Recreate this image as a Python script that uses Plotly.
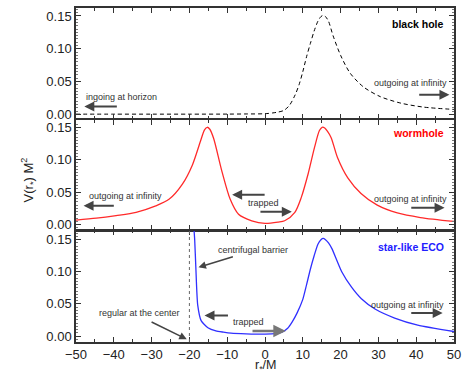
import plotly.graph_objects as go
from plotly.subplots import make_subplots

# ---- data ----
bh_r = [-50, -40, -30, -20, -10, -5, 0, 3, 5, 6.5, 8, 9, 10, 11, 12, 13, 14, 14.8, 15.4, 16.0, 16.8, 18, 20, 22.5, 26, 30.5, 36, 42, 50]
bh_v = [0.0003, 0.0003, 0.0003, 0.0003, 0.0004, 0.0006, 0.001, 0.003, 0.006, 0.014, 0.030, 0.045, 0.065, 0.088,
        0.108, 0.127, 0.142, 0.149, 0.151, 0.149, 0.142, 0.120, 0.090, 0.063, 0.042, 0.027, 0.017, 0.011, 0.0075]

wh_r = [-50, -44.6, -39.4, -34.1, -28.9, -25.4, -21.9, -19.2, -17.1, -16.0, -15.3, -14.6, -13.6, -11.4, -9.2, -7, -3.5, 0,
        3.5, 5.2, 7.9, 9.6, 11.4, 13.1, 14.4, 15.1, 15.8, 16.5, 17.5, 19.2, 21.9, 25.4, 29.7, 35, 41.1, 50]
wh_v = [0.007, 0.010, 0.014, 0.019, 0.029, 0.039, 0.062, 0.092, 0.128, 0.146, 0.150, 0.147, 0.133, 0.082, 0.039, 0.016, 0.006, 0.002,
        0.004, 0.006, 0.019, 0.042, 0.078, 0.119, 0.145, 0.150, 0.149, 0.144, 0.134, 0.103, 0.072, 0.048, 0.030, 0.018, 0.011, 0.005]

eco_r = [-18.9, -18.6, -18.3, -17.8, -16.9, -15.1, -13, -11, -9, -5, 0, 3, 4.5, 6, 7.2, 8.5, 10, 11, 12, 13, 14, 14.8, 15.4,
         16.0, 16.8, 17.7, 20.3, 22.9, 25.5, 29.1, 34.3, 40.4, 50]
eco_v = [0.175, 0.150, 0.107, 0.048, 0.024, 0.013, 0.008, 0.006, 0.0045, 0.0035, 0.003, 0.004, 0.006, 0.012, 0.022,
         0.036, 0.057, 0.080, 0.104, 0.125, 0.143, 0.150, 0.152, 0.150, 0.145, 0.136, 0.100, 0.076, 0.058, 0.042, 0.028, 0.017, 0.007]

barrier_r = -20
x_ticks = [-50, -40, -30, -20, -10, 0, 10, 20, 30, 40, 50]
y_ticks = [0.00, 0.05, 0.10, 0.15]
y_tick_text = ["0.00", "0.05", "0.10", "0.15"]

FONT = "Liberation Sans"
AX = "#333333"
TXT = "#333333"

fig = make_subplots(rows=3, cols=1, shared_xaxes=True)

fig.add_trace(go.Scatter(x=bh_r, y=bh_v, mode="lines",
                         line=dict(color="black", width=1, dash="4px,3px", shape="spline", smoothing=0.8)),
              row=1, col=1)
fig.add_trace(go.Scatter(x=wh_r, y=wh_v, mode="lines",
                         line=dict(color="#ff2a2a", width=1.3, shape="spline", smoothing=0.8)),
              row=2, col=1)
fig.add_trace(go.Scatter(x=eco_r, y=eco_v, mode="lines",
                         line=dict(color="#3030ff", width=1.3, shape="spline", smoothing=0.6)),
              row=3, col=1)

domains = [[0.6696, 1.0], [0.3363, 0.6637], [0.0, 0.3333]]
yranges = [[-0.0061, 0.1621], [-0.0077, 0.1607], [-0.0093, 0.164]]
for i in range(3):
    n = "" if i == 0 else str(i + 1)
    fig.layout["yaxis" + n].update(
        domain=domains[i], range=yranges[i], tickvals=y_ticks, ticktext=y_tick_text,
        ticks="inside", ticklen=5, tickcolor=AX, tickwidth=1, showline=True, linecolor=AX, linewidth=1.5,
        mirror="ticks", showgrid=False, zeroline=False,
        minor=dict(dtick=0.005, ticks="inside", ticklen=2, tickcolor="#777", tick0=0),
        tickfont=dict(family=FONT, size=13, color="#222"))
    fig.layout["xaxis" + n].update(
        range=[-50, 50], tickvals=x_ticks, ticks="inside", ticklen=5, tickcolor=AX, showline=True,
        linecolor=AX, linewidth=1.5, mirror="ticks", showgrid=False, zeroline=False,
        minor=dict(dtick=5, ticks="inside", ticklen=3, tickcolor=AX, tick0=0),
        showticklabels=(i == 2), tickfont=dict(family=FONT, size=13, color="#222"))

# dotted barrier line
fig.add_shape(type="line", xref="x3", yref="y3 domain", x0=barrier_r, x1=barrier_r, y0=0, y1=1,
              line=dict(color="#666", width=1, dash="dot"))

ann = []

def label(text, x, y, xa, ya, xanchor, color=TXT, size=9, bold=False):
    t = "<b>%s</b>" % text if bold else text
    ann.append(dict(text=t, x=x, y=y, xref=xa, yref=ya, xanchor=xanchor, yanchor="middle", showarrow=False,
                    font=dict(family=FONT, size=size, color=color)))

def arrow(x0, y0, x1, y1, xa, ya, color="#444", width=2):
    ann.append(dict(text="", x=x1, y=y1, ax=x0, ay=y0, xref=xa, yref=ya, axref=xa, ayref=ya,
                    showarrow=True, arrowhead=2, arrowsize=1, arrowwidth=width, arrowcolor=color))

# top panel
label("black hole", 47.8, 0.138, "x", "y", "right", color="black", size=10.5, bold=True)
label("ingoing at horizon", -47.8, 0.026, "x", "y", "left")
arrow(-38.8, 0.012, -47.8, 0.012, "x", "y")
label("outgoing at infinity", 48.6, 0.048, "x", "y", "right")
arrow(40.4, 0.030, 48.8, 0.030, "x", "y")

# middle panel
label("wormhole", 47.8, 0.141, "x2", "y2", "right", color="#ff0000", size=10.5, bold=True)
label("outgoing at infinity", -47.2, 0.044, "x2", "y2", "left")
arrow(-39.6, 0.029, -48.0, 0.029, "x2", "y2")
label("trapped", -5.0, 0.034, "x2", "y2", "left")
arrow(0.3, 0.046, -8.7, 0.046, "x2", "y2")
arrow(-1.6, 0.020, 7.1, 0.020, "x2", "y2")
label("outgoing at infinity", 48.8, 0.040, "x2", "y2", "right")
arrow(38.3, 0.026, 47.5, 0.026, "x2", "y2")

# bottom panel
label("star-like ECO", 47.8, 0.138, "x3", "y3", "right", color="#2020ff", size=10.5, bold=True)
label("centrifugal barrier", -12.9, 0.134, "x3", "y3", "left")
arrow(-8.1, 0.124, -17.6, 0.107, "x3", "y3", width=1.5)
label("regular at the center", -44.4, 0.036, "x3", "y3", "left")
arrow(-30.4, 0.023, -20.7, -0.005, "x3", "y3", width=1.5)
label("trapped", -8.9, 0.022, "x3", "y3", "left")
arrow(-9.4, 0.032, -16.0, 0.032, "x3", "y3")
arrow(-3.7, 0.008, 5.5, 0.008, "x3", "y3", color="#777", width=2.5)
label("outgoing at infinity", 47.8, 0.049, "x3", "y3", "right")
arrow(38.3, 0.036, 47.0, 0.036, "x3", "y3")

# axis titles
ann.append(dict(text="V(r<sub>*</sub>) M<sup>2</sup>", x=-0.126, y=0.485, xref="paper", yref="paper",
                xanchor="center", yanchor="middle", textangle=-90, showarrow=False,
                font=dict(family=FONT, size=13, color="#222")))
ann.append(dict(text="r<sub>*</sub>/M", x=0.5, y=-0.1, xref="paper", yref="paper",
                xanchor="center", yanchor="bottom", showarrow=False, borderpad=0,
                font=dict(family=FONT, size=12.5, color="#222")))

fig.update_layout(annotations=ann, width=467, height=375, showlegend=False,
                  margin=dict(l=76, r=10, t=6, b=33), paper_bgcolor="white", plot_bgcolor="white")

fig.write_html("out.html")
